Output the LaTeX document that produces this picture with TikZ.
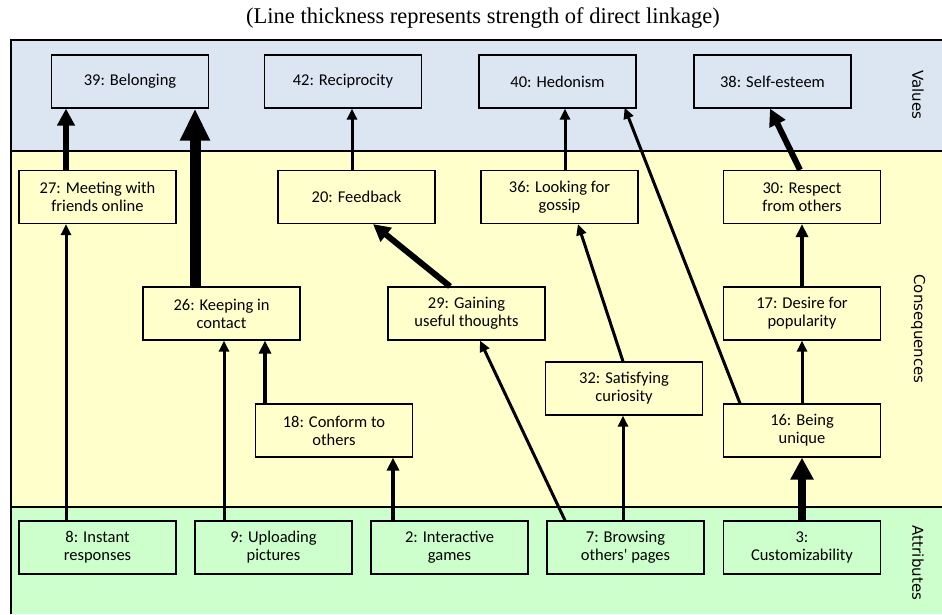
\documentclass[tikz,border=0pt]{standalone}
\usepackage{fontspec}
\setmainfont{Liberation Serif}
\newfontfamily\boxfont{Carlito}
\newfontfamily\bandfont{DejaVu Sans}
\usetikzlibrary{arrows.meta}
\definecolor{valblue}{RGB}{220,230,242}
\definecolor{conyellow}{RGB}{255,255,204}
\definecolor{attgreen}{RGB}{204,255,204}
\tikzset{
  box/.style={draw, line width=1.2pt, minimum width=157pt, minimum height=53pt,
    inner sep=0pt, align=center, font=\boxfont\fontsize{16.5}{18}\selectfont},
  band/.style={font=\bandfont\fontsize{15}{18}\selectfont, rotate=-90},
  lkA/.style={line width=3pt, -{Triangle[length=11pt,width=10pt]}},
  lkB/.style={line width=4pt, -{Triangle[length=13pt,width=12pt]}},
  lkC/.style={line width=6pt, -{Triangle[length=17pt,width=17pt]}},
  lkD/.style={line width=8.5pt, -{Triangle[length=22pt,width=22pt]}},
  lkE/.style={line width=11pt, -{Triangle[length=32pt,width=28pt]}},
}
\begin{document}
\begin{tikzpicture}[x=1pt,y=-1pt]
		\useasboundingbox (0,0) rectangle (942,614);
		% bands
		\fill[valblue] (11,40) rectangle (942,151);
		\fill[conyellow] (11,151) rectangle (942,507);
		\fill[attgreen] (11,507) rectangle (942,614);
		\draw[line width=1.3pt] (11,614) -- (11,40) -- (942,40);
		\draw[line width=1.3pt] (11,151) -- (942,151);
		\draw[line width=1.3pt] (11,507) -- (942,507);
		\node[font=\fontsize{22.5}{26}\selectfont] (title) at (483,18) {(Line thickness represents strength of direct linkage)};
		\node[band] (lval) at (918,95) {Values};
		\node[band] (lcon) at (918,329) {Consequences};
		\node[band] (latt) at (918,563) {Attributes};
		% values
		\node[box, fill=valblue] (n39) at (130,81.5) {39: Belonging};
		\node[box, fill=valblue] (n42) at (343,81.5) {42: Reciprocity};
		\node[box, fill=valblue] (n40) at (557.5,81.5) {40: Hedonism};
		\node[box, fill=valblue] (n38) at (772.5,81.5) {38: Self-esteem};
		% consequences
		\node[box, fill=conyellow] (n27) at (97.5,197) {27: Meeting with\\friends online};
		\node[box, fill=conyellow] (n20) at (356.5,197) {20: Feedback};
		\node[box, fill=conyellow] (n36) at (559.5,197) {36: Looking for\\gossip};
		\node[box, fill=conyellow] (n30) at (802,197) {30: Respect\\from others};
		\node[box, fill=conyellow] (n26) at (221.5,313.5) {26: Keeping in\\contact};
		\node[box, fill=conyellow] (n29) at (466.5,313.5) {29: Gaining\\useful thoughts};
		\node[box, fill=conyellow] (n17) at (802,313.5) {17: Desire for\\popularity};
		\node[box, fill=conyellow] (n18) at (334,430.5) {18: Conform to\\others};
		\node[box, fill=conyellow] (n32) at (624,388.5) {32: Satisfying\\curiosity};
		\node[box, fill=conyellow] (n16) at (802,430.5) {16: Being\\unique};
		% attributes
		\node[box, fill=attgreen] (n8) at (97.5,547.5) {8: Instant\\responses};
		\node[box, fill=attgreen] (n9) at (273.5,547.5) {9: Uploading\\pictures};
		\node[box, fill=attgreen] (n2) at (449.5,547.5) {2: Interactive\\games};
		\node[box, fill=attgreen] (n7) at (625.5,547.5) {7: Browsing\\others' pages};
		\node[box, fill=attgreen] (n3) at (802,547.5) {3:\\Customizability};
		% linkages
		\draw[lkC] ([xshift=-31.5pt]n27.north) -- ([xshift=-31.5pt]n27.north |- n39.south);
		\draw[lkE] ([xshift=-26.5pt]n26.north) -- ([xshift=-26.5pt]n26.north |- n39.south);
		\draw[lkA] ([xshift=-4.5pt]n20.north) -- ([xshift=-4.5pt]n20.north |- n42.south);
		\draw[lkA] ([xshift=5.5pt]n36.north) -- ([xshift=5.5pt]n36.north |- n40.south);
		\draw[lkA, shorten >=-1pt] ([xshift=-62pt]n16.north) -- ([xshift=67.5pt]n40.south);
		\draw[lkC] ([xshift=-2pt]n30.north) -- ([xshift=-2.5pt]n38.south);
		\draw[lkA] ([xshift=-31.5pt]n8.north) -- ([xshift=-31.5pt]n8.north |- n27.south);
		\draw[lkA] ([xshift=-49.5pt]n9.north) -- ([xshift=-49.5pt]n9.north |- n26.south);
		\draw[lkB] ([xshift=-69pt]n18.north) -- ([xshift=-69pt]n18.north |- n26.south);
		\draw[lkB] ([xshift=-56.5pt]n2.north) -- ([xshift=-56.5pt]n2.north |- n18.south);
		\draw[lkC] ([xshift=-16.5pt]n29.north) -- ([xshift=16.5pt]n20.south);
		\draw[lkA] ([xshift=-60.5pt]n7.north) -- ([xshift=13.5pt]n29.south);
		\draw[lkA] ([xshift=-1pt]n32.north) -- ([xshift=18.5pt]n36.south);
		\draw[lkA] ([xshift=-2.5pt]n7.north) -- ([xshift=-2.5pt]n7.north |- n32.south);
		\draw[lkB] (n17.north) -- (n30.south);
		\draw[lkA] (n16.north) -- (n17.south);
		\draw[lkD] (n3.north) -- (n16.south);
\end{tikzpicture}
\end{document}
